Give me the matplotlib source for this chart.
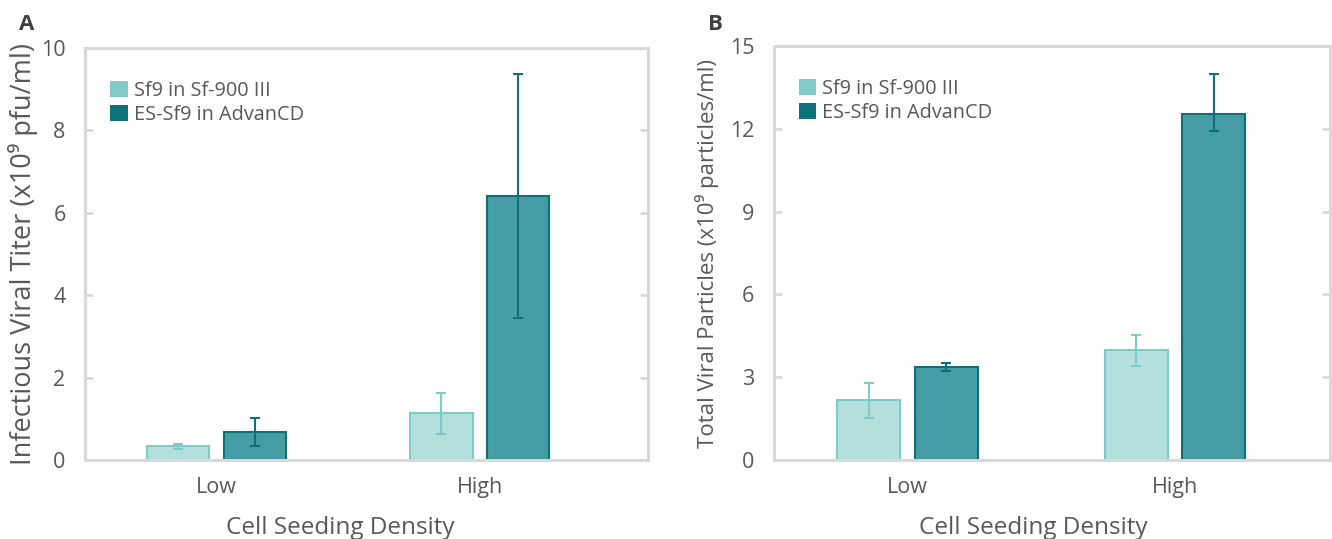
import numpy as np
import matplotlib.pyplot as plt
from matplotlib.patches import Patch
from matplotlib.transforms import blended_transform_factory

plt.rcParams['font.family'] = ['Open Sans', 'DejaVu Sans']

categories = ['Low', 'High']
series = ['Sf9 in Sf-900 III', 'ES-Sf9 in AdvanCD']

# panel A: infectious viral titer (x10^9 pfu/ml)
titer_sf9 = [0.33, 1.13]
titer_sf9_err = [0.06, 0.49]
titer_es = [0.69, 6.40]
titer_es_err = [0.34, 2.96]

# panel B: total viral particles (x10^9 particles/ml)
part_sf9 = [2.16, 3.97]
part_sf9_lo = [0.63, 0.55]
part_sf9_hi = [0.63, 0.55]
part_es = [3.38, 12.54]
part_es_lo = [0.14, 0.61]
part_es_hi = [0.14, 1.46]

fill_light, edge_light = '#b3e0dd', '#80cbc7'
fill_dark, edge_dark = '#459ca4', '#0e7078'
grey = '#595959'
spine = '#d9d9d9'

fig = plt.figure(figsize=(13.32, 5.39), dpi=100)
axA = fig.add_axes([0.0638, 0.1466, 0.4227, 0.7644])
axB = fig.add_axes([0.581, 0.1466, 0.4175, 0.768])

def draw(ax, v1, e1, v2, e2, ymax, step, ylabel, ylsize, xlim, lpad):
    x = np.arange(len(categories))
    w, off = 0.236, 0.145
    ax.bar(x - off, v1, w, color=fill_light, edgecolor=edge_light, linewidth=1.5, zorder=2)
    ax.bar(x + off, v2, w, color=fill_dark, edgecolor=edge_dark, linewidth=1.5, zorder=2)
    ax.errorbar(x - off, v1, yerr=e1, fmt='none', ecolor=edge_light, elinewidth=1.5,
                capsize=3.6, capthick=1.5, zorder=3)
    ax.errorbar(x + off, v2, yerr=e2, fmt='none', ecolor=edge_dark, elinewidth=1.5,
                capsize=3.6, capthick=1.5, zorder=3)
    ax.set_xlim(*xlim)
    ax.set_ylim(0, ymax)
    ax.set_yticks(np.arange(0, ymax + step / 2, step))
    ax.set_xticks(x)
    ax.set_xticklabels(categories)
    for s in ax.spines.values():
        s.set_color(spine)
        s.set_linewidth(2.2)
    ax.tick_params(axis='x', length=0, pad=12, labelsize=15.5, labelcolor=grey)
    ax.tick_params(axis='y', direction='in', length=6, width=2, color=spine,
                   labelsize=15.5, labelcolor=grey, pad=14, right=True)
    ax.set_ylabel(ylabel, fontsize=ylsize, color=grey, labelpad=lpad)
    ax.set_xlabel('Cell Seeding Density', fontsize=17.5, color=grey)
    tr = blended_transform_factory(ax.transData, ax.transAxes)
    ax.xaxis.set_label_coords(0.47, -0.135, transform=tr)
    handles = [Patch(facecolor=edge_light, edgecolor='none'),
               Patch(facecolor=edge_dark, edgecolor='none')]
    ax.legend(handles, series, loc='upper left', bbox_to_anchor=(0.03, 0.94),
              frameon=False, fontsize=14.3, labelcolor=grey, handlelength=0.9,
              handleheight=0.9, handletextpad=0.3, labelspacing=0.2, borderaxespad=0)

draw(axA, titer_sf9, titer_sf9_err, titer_es, titer_es_err, 10, 2,
     'Infectious Viral Titer (x10⁹ pfu/ml)', 19.5, (-0.5, 1.64), 2)
draw(axB, part_sf9, [part_sf9_lo, part_sf9_hi], part_es, [part_es_lo, part_es_hi], 15, 3,
     'Total Viral Particles (x10⁹ particles/ml)', 16, (-0.5, 1.58), 8)

fig.text(0.02, 0.955, 'A', fontsize=16, fontweight='bold', color='#404040', ha='center', va='center')
fig.text(0.537, 0.955, 'B', fontsize=16, fontweight='bold', color='#404040', ha='center', va='center')

fig.savefig('out.png', dpi=100)
